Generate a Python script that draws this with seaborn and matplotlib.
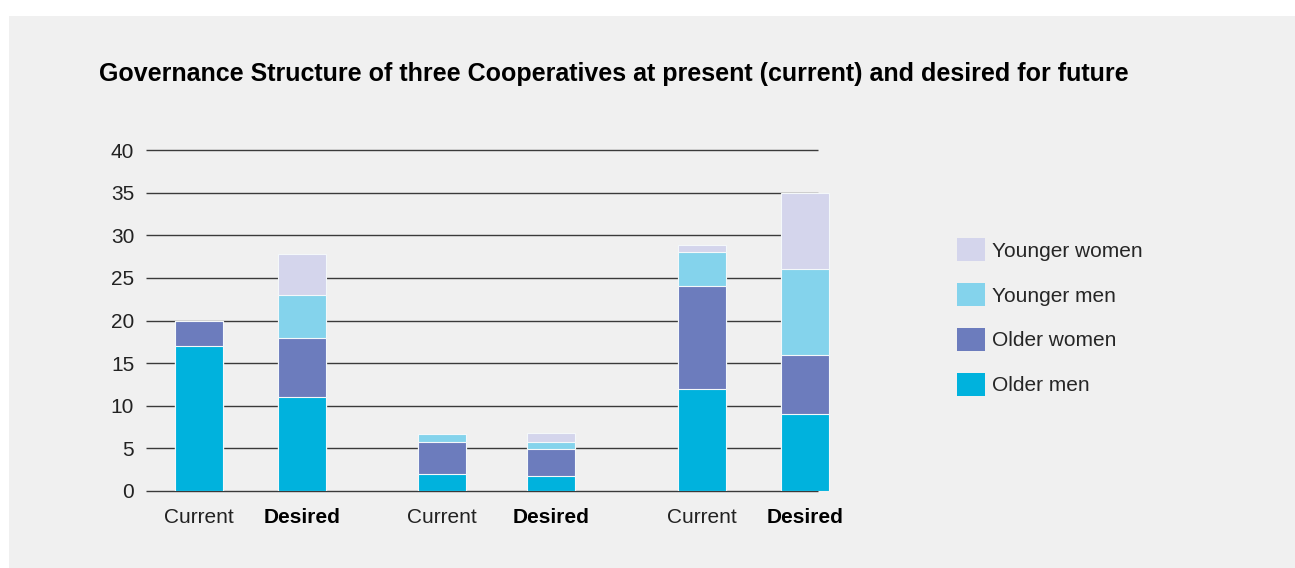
import numpy as np
import pandas as pd
import matplotlib.pyplot as plt
import seaborn as sns
from matplotlib.patches import Rectangle, Patch

# Data (3 cooperatives, current vs desired)
bar_labels = ["Current", "Desired", "Current", "Desired", "Current", "Desired"]
older_men = [17, 11, 2, 1.8, 12, 9]
older_women = [3, 7, 3.8, 3.1, 12, 7]
younger_men = [0, 5, 0.9, 0.9, 4, 10]
younger_women = [0, 4.8, 0, 1.0, 0.9, 9]

layers = ["Older men", "Older women", "Younger men", "Younger women"]
colors = {"Older men": "#00b2dd",
          "Older women": "#6c7cbd",
          "Younger men": "#84d3ec",
          "Younger women": "#d4d5ec"}

# bar slots (layout only): pairs with a wider gap between cooperatives
x_pos = np.array([0, 1.0, 2.36, 3.42, 4.88, 5.88])

df = pd.DataFrame({"x": x_pos,
                   "Older men": older_men,
                   "Older women": older_women,
                   "Younger men": younger_men,
                   "Younger women": younger_women})
cum = df[layers].cumsum(axis=1)

sns.set_theme(style="white")
plt.rcParams["font.family"] = ["Liberation Sans", "DejaVu Sans"]

W, H = 1295, 568
fig = plt.figure(figsize=(W / 100, H / 100), dpi=100, facecolor="white")
# grey panel behind everything
fig.patches.append(Rectangle((9 / W, 0), 1 - 9 / W, 1 - 16 / H, transform=fig.transFigure,
                             facecolor="#f0f0f0", edgecolor="none", zorder=-5))

ax_l, ax_r, ax_t, ax_b = 146, 830, 150, 491
ax = fig.add_axes([ax_l / W, 1 - ax_b / H, (ax_r - ax_l) / W, (ax_b - ax_t) / H])
ax.set_facecolor("none")

# gridlines stop short of the last bar
x_left = -0.515
x_right = 6.01
yticks = np.arange(0, 45, 5)
ax.hlines(yticks, x_left, x_right, color="#3a3a3a", lw=1.0, zorder=1, clip_on=False)

# stacked bars: draw cumulative totals from the top layer down
min_gap = np.diff(np.sort(x_pos)).min()
bar_w = 0.466 / min_gap
for layer in layers[::-1]:
    sns.barplot(x=df["x"], y=cum[layer], color=colors[layer], native_scale=True,
                width=bar_w, errorbar=None, saturation=1, edgecolor="#f4f8fa",
                linewidth=0.8, ax=ax, zorder=2)

ax.set_xlim(x_left, (ax_r - 199) / 103)
ax.set_ylim(0, 40)
ax.set_yticks(yticks)
ax.set_yticklabels([str(t) for t in yticks], fontsize=15, color="#222222")
ax.set_xticks(x_pos)
ax.set_xticklabels(bar_labels, fontsize=15, color="#222222")
for lab in ax.get_xticklabels():
    if lab.get_text() == "Desired":
        lab.set_fontweight("bold")
        lab.set_color("black")
ax.tick_params(axis="both", length=0)
ax.tick_params(axis="y", pad=8.5)
ax.tick_params(axis="x", pad=12.5)
ax.set_xlabel("")
ax.set_ylabel("")
sns.despine(ax=ax, left=True, bottom=True)

# legend, top to bottom: younger women ... older men
handles = [Patch(facecolor=colors[l], edgecolor="none", label=l) for l in layers[::-1]]
ax.legend(handles=handles, loc="upper left", bbox_to_anchor=(957 / W, 1 - 238 / H),
          bbox_transform=fig.transFigure, frameon=False, fontsize=15,
          handlelength=1.34, handleheight=1.34, labelspacing=1.04, handletextpad=0.33,
          borderpad=0, borderaxespad=0)

fig.text(99 / W, 1 - 81 / H,
         "Governance Structure of three Cooperatives at present (current) and desired for future",
         fontsize=18, fontweight="bold", color="black", va="baseline", ha="left")

fig.savefig("out.png", dpi=100, facecolor=fig.get_facecolor())
